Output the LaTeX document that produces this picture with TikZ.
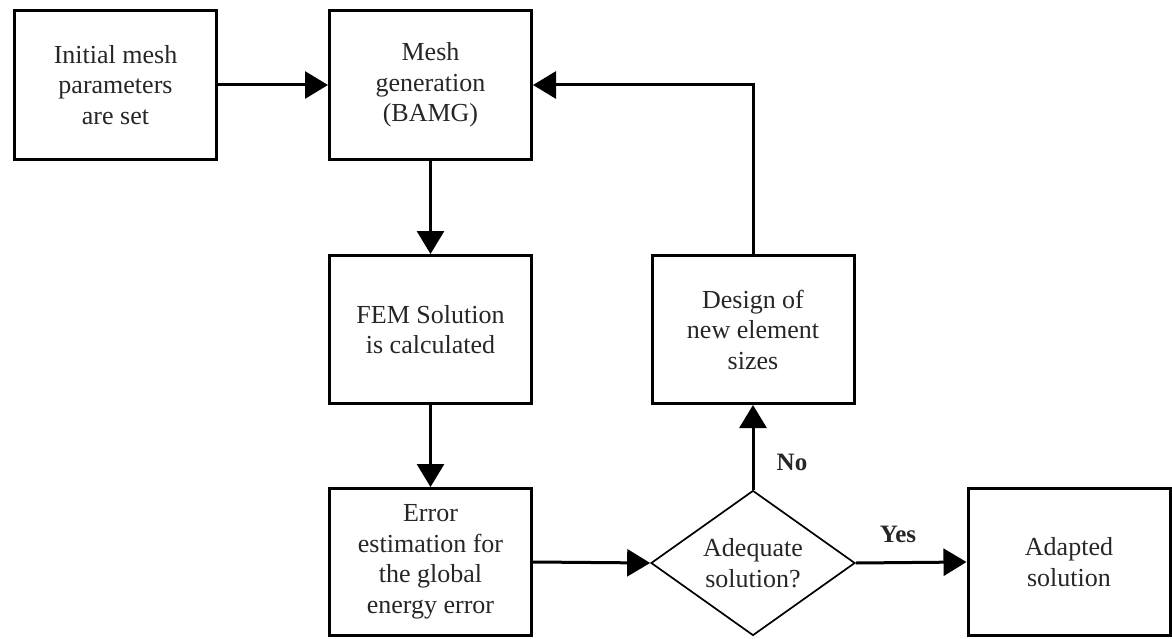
\documentclass[tikz,border=0pt]{standalone}
\usepackage{fontspec}
\setmainfont{Liberation Serif}
\usetikzlibrary{arrows.meta,shapes.geometric}
\begin{document}
\begin{tikzpicture}[x=1pt,y=-1pt,
  box/.style={draw=black, line width=3pt, minimum width=202pt, minimum height=149pt, inner sep=0pt, align=center,
    font=\fontsize{26}{30.5}\selectfont, text=black!85},
  dec/.style={draw=black, line width=1.7pt, diamond, aspect=1.4, minimum width=204pt, minimum height=145pt, inner sep=0pt,
    align=center, font=\fontsize{26}{30.5}\selectfont, text=black!85},
  conn/.style={line width=3pt, -{Triangle[length=23pt,width=27pt]}},
  lbl/.style={font=\fontsize{25}{30}\selectfont\bfseries, text=black!85}]
\useasboundingbox (0,0) rectangle (1172,639);
\node[box] (init) at (115.5,85) {Initial mesh\\parameters\\are set};
\node[box] (mesh) at (430.5,85) {Mesh\\generation\\(BAMG)};
\node[box, minimum height=148pt] (fem) at (430.5,329.5) {FEM Solution\\is calculated};
\node[box, minimum height=147pt] (err) at (430.5,562) {Error\\estimation for\\the global\\energy error};
\node[box, minimum height=148pt] (design) at (753,329.5) {Design of\\new element\\sizes};
\node[dec] (dia) at (753,563) {Adequate\\solution?};
\node[box, minimum height=147pt] (adapt) at (1069,562) {Adapted\\solution};
\draw[conn] (init.east) -- (mesh.west);
\draw[conn] (mesh.south) -- (fem.north);
\draw[conn] (fem.south) -- (err.north);
\draw[conn] (err.east) -- (dia.west);
\draw[conn] (dia.east) -- (adapt.west);
\draw[conn] (dia.north) -- (design.south);
\draw[conn] (design.north) |- (mesh.east);
\node[lbl] (no) at (792,462) {No};
\node[lbl] (yes) at (898,534) {Yes};
\end{tikzpicture}
\end{document}
